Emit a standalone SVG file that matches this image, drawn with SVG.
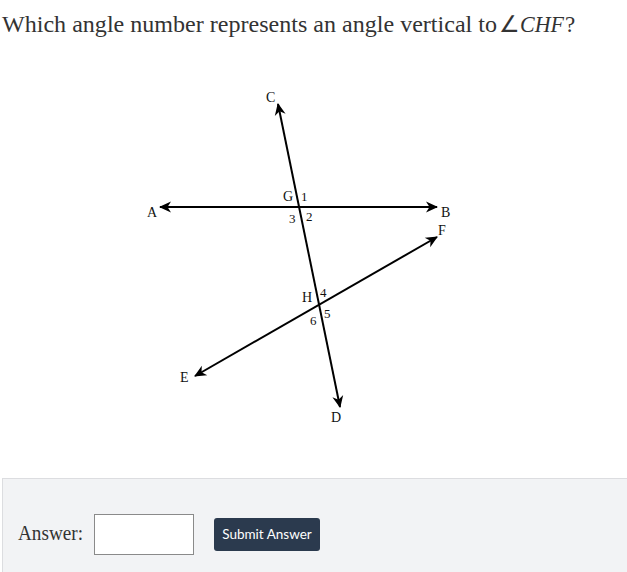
<svg xmlns="http://www.w3.org/2000/svg" width="627" height="572" viewBox="0 0 627 572">
<style>
.lbl{font-family:"Liberation Serif",serif;font-size:14px;fill:#111}
.num{font-family:"Liberation Serif",serif;font-size:13px;fill:#111}
.ln{stroke:#000;stroke-width:2;fill:none}
.title{font-family:"Liberation Serif",serif;font-size:23px;fill:#333}
</style>
<defs>
<marker id="ah" viewBox="-13 -7 14 14" refX="0" refY="0" markerWidth="14" markerHeight="14" markerUnits="userSpaceOnUse" orient="auto-start-reverse" overflow="visible">
<path d="M1,0 L-11,-5.5 L-7.5,0 L-11,5.5 Z" fill="#000"/>
</marker>
</defs>
<rect width="627" height="572" fill="#fff"/>
<text class="title" x="2" y="32" textLength="495" lengthAdjust="spacingAndGlyphs">Which angle number represents an angle vertical to</text>
<text class="title" x="499" y="32">∠</text>
<text class="title" x="520" y="32" font-style="italic" textLength="44" lengthAdjust="spacingAndGlyphs">CHF</text>
<text class="title" x="565" y="32">?</text>
<g id="connectors">
<line class="ln" x1="160" y1="207" x2="437" y2="207" marker-start="url(#ah)" marker-end="url(#ah)"/>
<line class="ln" x1="278" y1="104" x2="340" y2="407" marker-start="url(#ah)" marker-end="url(#ah)"/>
<line class="ln" x1="195" y1="376" x2="437" y2="237" marker-start="url(#ah)" marker-end="url(#ah)"/>
</g>
<g id="node-C"><text class="lbl" x="266" y="102">C</text></g>
<g id="node-A"><text class="lbl" x="147" y="217">A</text></g>
<g id="node-B"><text class="lbl" x="441" y="217">B</text></g>
<g id="node-F"><text class="lbl" x="438" y="235">F</text></g>
<g id="node-G"><text class="lbl" x="283" y="201">G</text>
<text class="num" x="301" y="201">1</text>
<text class="num" x="289" y="223">3</text>
<text class="num" x="306" y="221">2</text></g>
<g id="node-H"><text class="lbl" x="302" y="302">H</text>
<text class="num" x="320" y="297">4</text>
<text class="num" x="310" y="325">6</text>
<text class="num" x="324" y="318">5</text></g>
<g id="node-E"><text class="lbl" x="180" y="382">E</text></g>
<g id="node-D"><text class="lbl" x="331" y="422">D</text></g>
<g id="panel">
<rect x="2.5" y="478.5" width="626" height="96" fill="#f2f3f5" stroke="#dcdde0"/>
<text x="18" y="540" font-family="Liberation Serif,serif" font-size="20" fill="#333" textLength="65" lengthAdjust="spacingAndGlyphs">Answer:</text>
<rect x="94.5" y="514.5" width="99" height="40" fill="#fff" stroke="#8a8a8a"/>
<rect x="214" y="518" width="106" height="33" rx="3" fill="#2b3a4e"/>
<text x="267" y="539" text-anchor="middle" font-family="Lato,sans-serif" font-size="13.5" fill="#fff">Submit Answer</text>
</g>
</svg>
